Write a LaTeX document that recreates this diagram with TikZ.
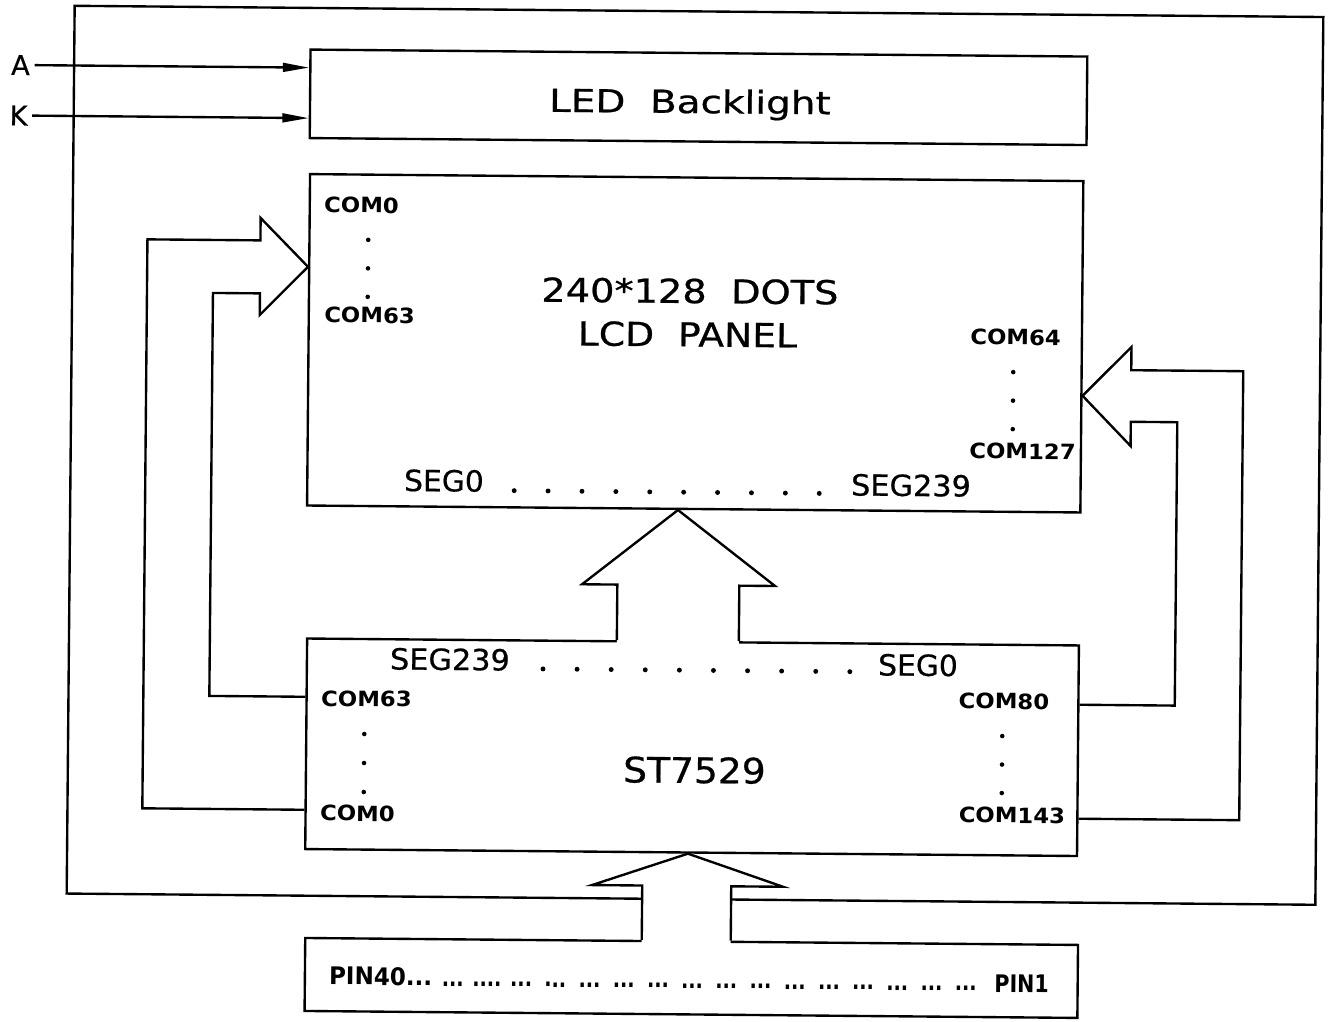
\documentclass[tikz,border=0pt]{standalone}
\usepackage{fontspec}
\setmainfont{DejaVu Sans}
\newfontfamily\heavy[FakeBold=0.6]{DejaVu Sans}
\usepackage{graphicx}
\usetikzlibrary{arrows.meta}
\newcommand\stx[3]{\fontsize{#1}{#1}\selectfont\scalebox{#2}[1]{#3}}
\newcommand\comtxt[1]{\stx{12pt}{1.08}{\bfseries #1}}
\newcommand\segtxt[2]{\stx{16.6pt}{#1}{\heavy #2}}
\begin{document}
\begin{tikzpicture}[x=0.02cm,y=-0.02cm,
  ln/.style={line width=1.35pt,line join=miter},
  box/.style={draw,line width=1.35pt,inner sep=0pt},
  tx/.style={anchor=base,inner sep=0pt},
  sig/.style={line width=1.35pt,-{Triangle[length=15pt,width=5pt]}},
  vdot/.style={fill=black}]
\useasboundingbox (0,0) rectangle (1328,1021);
\begin{scope}[rotate around={-0.5157:(664,510)},transform shape]
% outer frame and blocks
\node[box,minimum width=24.98cm,minimum height=17.76cm] (frame) at (694.5,455) {};
\node[box,minimum width=15.54cm,minimum height=1.77cm] (led) at (694.8,97) {};
\node[box,minimum width=15.47cm,minimum height=6.63cm] (lcd) at (693.7,343) {};
\node[box,minimum width=15.44cm,minimum height=4.212cm] (drv) at (694.2,747) {};
\node[box,minimum width=15.46cm,minimum height=1.46cm] (pin) at (695.5,977.7) {};
% A / K inputs
\node[inner sep=0pt] (A) at (16.5,70.8) {\stx{15.5pt}{1.0}{\heavy A}};
\node[inner sep=0pt] (K) at (15,121.3) {\stx{15.5pt}{1.0}{\heavy K}};
\draw[sig] ([xshift=2.5pt]A.east) -- (A.east -| led.west);
\draw[sig] ([xshift=2.5pt]K.east) -- (K.east -| led.west);
% left COM bus
\draw[ln] (drv.west |- 0,813) -- (145,813) -- (145,244) -- (258,244) -- (258,221.6)
  -- (lcd.west |- 0,270) -- (258,318.6) -- (258,297) -- (211,297) -- (211,700)
  -- (drv.west |- 0,700);
% right COM bus
\draw[ln] (drv.east |- 0,701) -- (1176.5,701) -- (1176.5,417.6) -- (1130,417.6)
  -- (1130,441.8) -- (lcd.east |- 0,392) -- (1130,342.8) -- (1130,366)
  -- (1242,366) -- (1242,815) -- (drv.east |- 0,815);
% SEG bus (driver -> LCD)
\fill[white] (618,644.5) -- (618,585) -- (582.7,585) -- (678,511) -- (775.7,585)
  -- (740,585) -- (740,644.5) -- cycle;
\draw[ln] (drv.north -| 618,0) -- (618,585) -- (582.7,585) -- (lcd.south -| 678,0)
  -- (775.7,585) -- (740,585) -- (drv.north -| 740,0);
% pin bus (connector -> driver)
\fill[white] (645.6,944.5) -- (645.6,885.7) -- (595.4,885.7) -- (691,854.5) -- (786.4,885.7)
  -- (734.6,885.7) -- (734.6,944.5) -- cycle;
\draw[ln] (pin.north -| 645.6,0) -- (645.6,885.7) -- (595.4,885.7) -- (drv.south -| 691,0)
  -- (786.4,885.7) -- (734.6,885.7) -- (pin.north -| 734.6,0);
% texts
\node[tx] (ledt) at (686.3,112.8) {\stx{18pt}{1.23}{\heavy LED\ \ Backlight}};
\node[tx] (lcdt1) at (688,302.8) {\stx{18.8pt}{1.16}{\heavy 240*128\ \ DOTS}};
\node[tx] (lcdt2) at (685.9,346.2) {\stx{18.8pt}{1.14}{\heavy LCD\ \ PANEL}};
\node[tx] (drvt) at (696.8,782.7) {\stx{20pt}{1.07}{\heavy ST7529}};
\node[tx] (lc0) at (358.8,215.7) {\comtxt{COM0}};
\node[tx] (lc63) at (367.8,325.7) {\comtxt{COM63}};
\node[tx] (lc64) at (1014,341.8) {\comtxt{COM64}};
\node[tx] (lc127) at (1022,455.8) {\comtxt{COM127}};
\node[tx] (ls0) at (443.7,493.3) {\segtxt{1.02}{SEG0}};
\node[tx] (ls239) at (910.8,493.8) {\segtxt{1.04}{SEG239}};
\node[tx] (ds239) at (451.3,671.9) {\segtxt{1.04}{SEG239}};
\node[tx] (ds0) at (919.4,673.5) {\segtxt{1.02}{SEG0}};
\node[tx] (dc63) at (368.2,709.2) {\comtxt{COM63}};
\node[tx] (dc0) at (360.2,823.8) {\comtxt{COM0}};
\node[tx] (dc80) at (1005.7,705.9) {\comtxt{COM80}};
\node[tx] (dc143) at (1014.7,819.9) {\comtxt{COM143}};
% dots
\foreach \i in {0,...,9} {\fill[vdot] (514+33.9*\i,492) circle[radius=1.4pt];}
\foreach \i in {0,...,9} {\fill[vdot] (544.4+34.1*\i,670) circle[radius=1.4pt];}
\foreach \y in {242.5,271,299.5} {\fill[vdot] (365.8,\y) circle[radius=1.3pt];}
\foreach \y in {369,397.5,426} {\fill[vdot] (1012,\y) circle[radius=1.3pt];}
\foreach \y in {736.7,765.7,794.7} {\fill[vdot] (366.3,\y) circle[radius=1.3pt];}
\foreach \y in {733,761.5,790} {\fill[vdot] (1004.3,\y) circle[radius=1.3pt];}
% pin row
\node[tx,anchor=base west] (p40) at (333,987.7) {\stx{13.8pt}{0.95}{\bfseries PIN40...}};
\foreach \i in {0,...,15} {
  \ifnum\i=1\relax
    \node[tx] (g\i) at (457+34.2*\i,988) {\stx{13.6pt}{0.8}{\bfseries ....}};
  \else
    \node[tx] (g\i) at (457+34.2*\i,988) {\stx{13.6pt}{0.8}{\bfseries ...}};
  \fi
}
\node[tx,anchor=base east] (p1) at (1053.5,989.5) {\stx{13.8pt}{0.85}{\bfseries PIN1}};
\end{scope}
\end{tikzpicture}
\end{document}
